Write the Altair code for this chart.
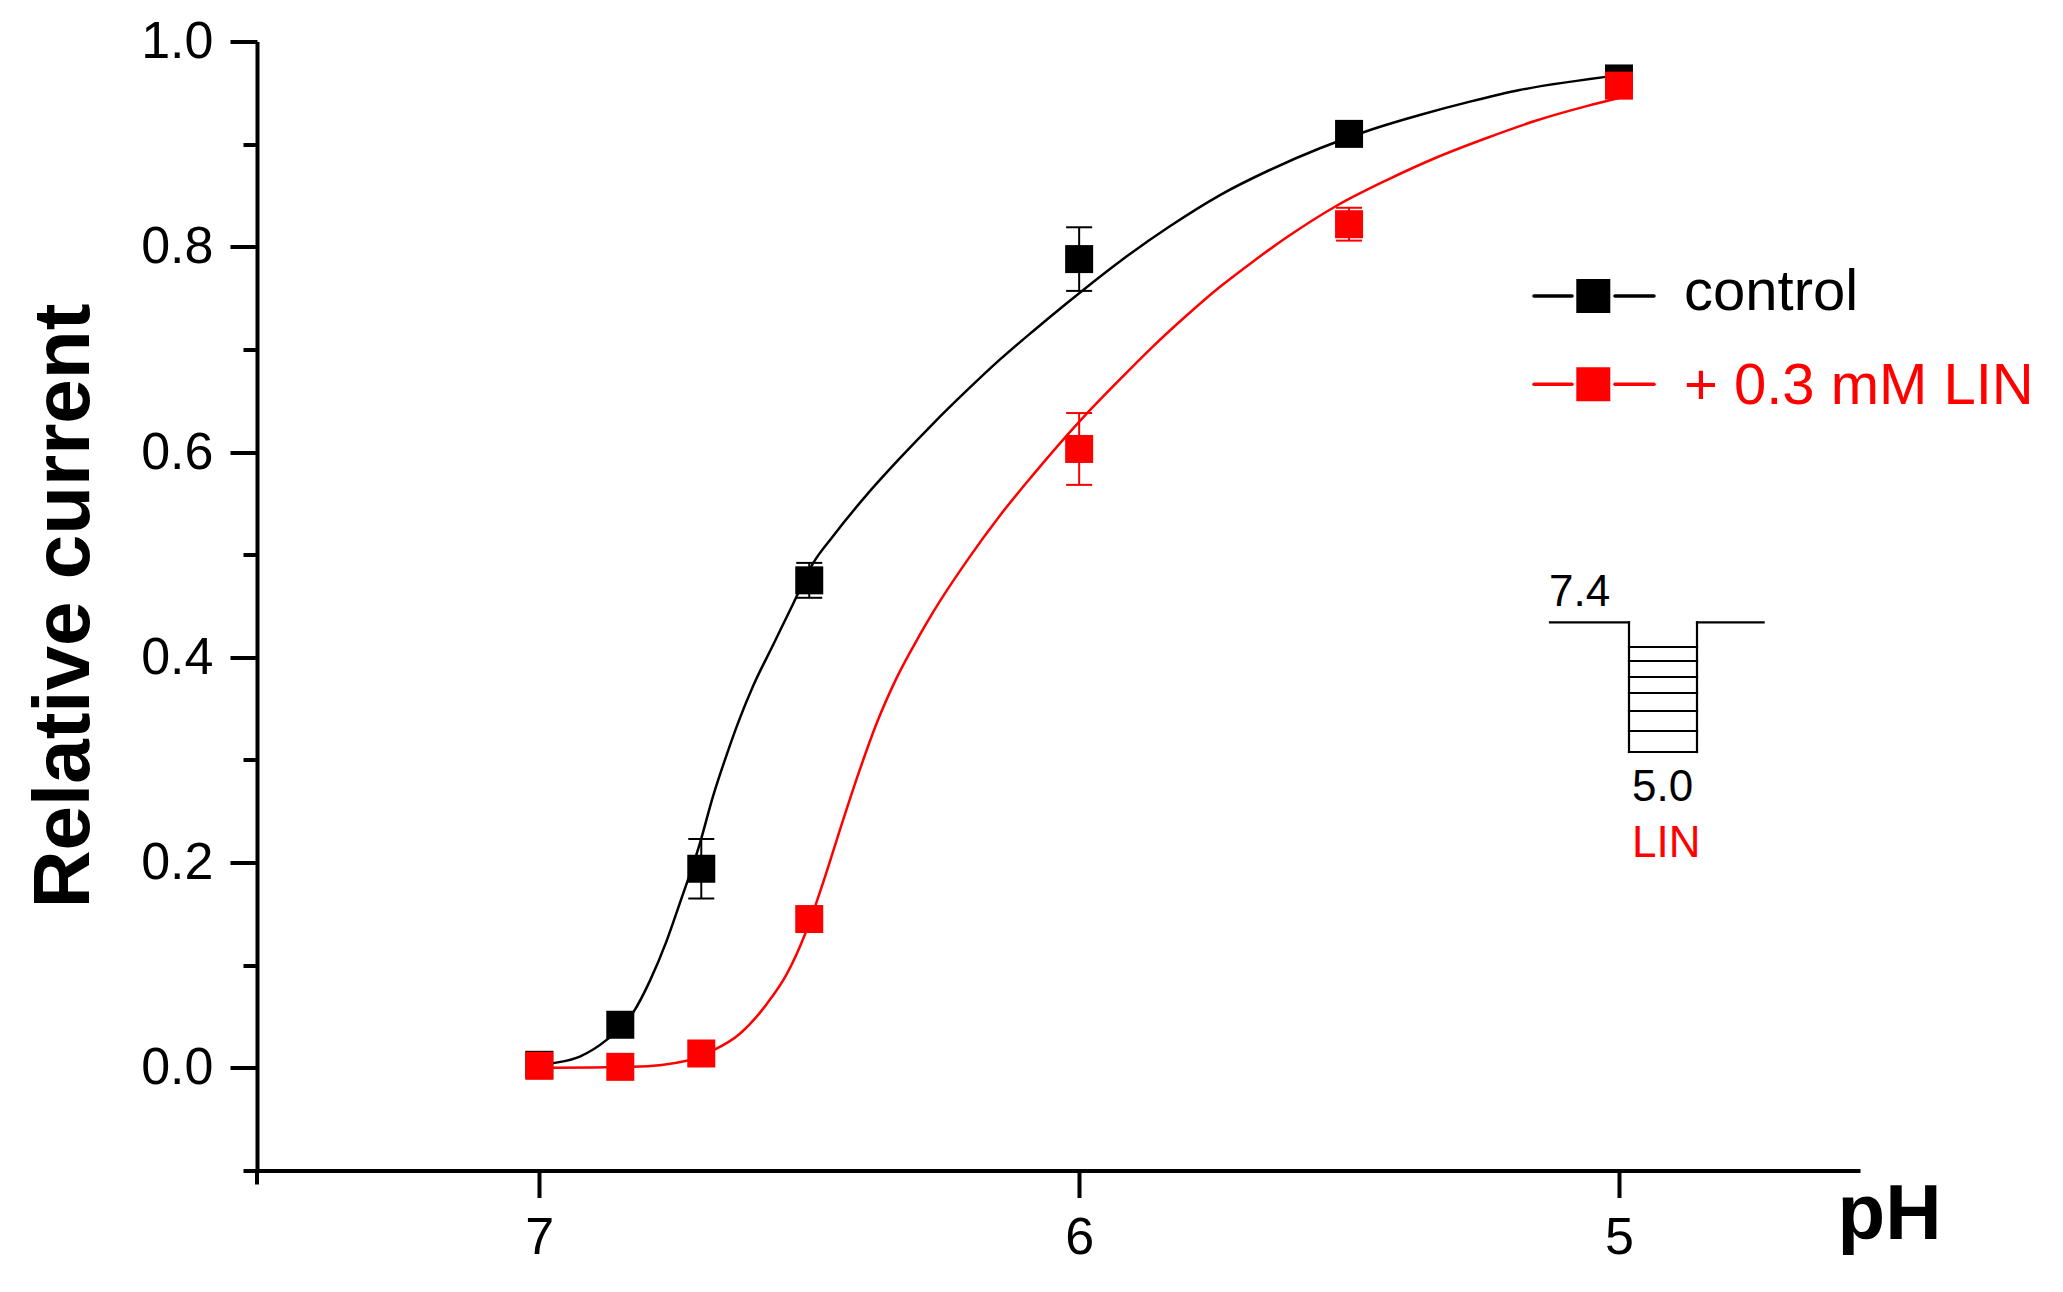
import altair as alt
import pandas as pd

# ---------------- data ----------------
ph = [7.0, 6.85, 6.7, 6.5, 6.0, 5.5, 5.0]
control = [0.003, 0.042, 0.194, 0.475, 0.788, 0.910, 0.964]
control_err = [0.004, 0.008, 0.029, 0.017, 0.031, 0.008, 0.006]
lin = [0.002, 0.001, 0.014, 0.145, 0.603, 0.822, 0.957]
lin_err = [0.003, 0.003, 0.006, 0.008, 0.035, 0.016, 0.006]

fit_ph_control = [7.0, 6.98, 6.925, 6.876, 6.826, 6.795, 6.764, 6.74, 6.703, 6.678,
                  6.653, 6.629, 6.604, 6.567, 6.53, 6.493, 6.456, 6.394, 6.332, 6.27,
                  6.208, 6.147, 6.085, 6.023, 5.924, 5.832, 5.739, 5.647, 5.554, 5.461,
                  5.369, 5.276, 5.184, 5.0]
fit_control = [0.002, 0.004, 0.011, 0.027, 0.054, 0.085, 0.124, 0.16, 0.218, 0.265,
               0.305, 0.34, 0.372, 0.412, 0.452, 0.4916, 0.518, 0.558, 0.594, 0.628,
               0.66, 0.69, 0.718, 0.745, 0.786, 0.82, 0.8504, 0.8748, 0.896, 0.9138,
               0.9284, 0.9414, 0.9527, 0.967]

fit_ph_lin = [7.0, 6.974, 6.826, 6.727, 6.678, 6.629, 6.579, 6.542, 6.508, 6.474,
              6.444, 6.406, 6.376, 6.339, 6.295, 6.27, 6.208, 6.147, 6.085, 6.023,
              5.992, 5.924, 5.863, 5.801, 5.739, 5.677, 5.616, 5.523, 5.43, 5.338,
              5.245, 5.153, 5.06, 5.0]
fit_lin = [0.0, 0.0, 0.001, 0.007, 0.017, 0.033, 0.062, 0.091, 0.13, 0.181,
           0.2305, 0.291, 0.3345, 0.379, 0.422, 0.4445, 0.494, 0.538, 0.578, 0.616,
           0.634, 0.671, 0.703, 0.733, 0.761, 0.786, 0.809, 0.84, 0.865, 0.887,
           0.906, 0.923, 0.937, 0.945]

series_names = ["control", "+ 0.3 mM LIN"]
x_ticks = [7, 6, 5]
y_ticks = [-0.1, 0.0, 0.1, 0.2, 0.3, 0.4, 0.5, 0.6, 0.7, 0.8, 0.9, 1.0]
x_domain = [4.5535, 7.523]
y_domain = [-0.1, 1.0]
inset_labels = ["7.4", "5.0", "LIN"]

# ---------------- layout ----------------
W, H = 1603, 1129
FONT = "Liberation Sans"
BLACK = "#000000"
RED = "#ff0000"


def pts_frame(vals, errs):
    return pd.DataFrame({"pH": ph, "v": vals,
                         "lo": [a - b for a, b in zip(vals, errs)],
                         "hi": [a + b for a, b in zip(vals, errs)]})


pts_c = pts_frame(control, control_err)
pts_l = pts_frame(lin, lin_err)
fit_c = pd.DataFrame({"pH": fit_ph_control, "v": fit_control})
fit_l = pd.DataFrame({"pH": fit_ph_lin, "v": fit_lin})

xscale = alt.Scale(domain=x_domain, reverse=True, nice=False, zero=False)
yscale = alt.Scale(domain=y_domain, nice=False, zero=False)

major_test = "round(datum.value*10) % 2 == 0"

x_axis = alt.Axis(
    values=x_ticks, format="d", title="pH",
    titleFont=FONT, titleFontSize=78, titleFontWeight="bold", titleColor=BLACK,
    titleAlign="left", titleBaseline="alphabetic", titleX=1580, titleY=68,
    labelFont=FONT, labelFontSize=52, labelColor=BLACK, labelPadding=15,
    tickSize=27, tickWidth=4, tickColor=BLACK,
    domainWidth=4, domainColor=BLACK, grid=False,
)
y_axis = alt.Axis(
    values=y_ticks, title="Relative current",
    labelExpr=f"{major_test} ? format(datum.value, '.1f') : ''",
    titleFont=FONT, titleFontSize=80, titleFontWeight="bold", titleColor=BLACK,
    titleAngle=270, titleAlign="center", titleBaseline="alphabetic", titleX=-169, titleY=564,
    labelFont=FONT, labelFontSize=52, labelColor=BLACK, labelPadding=17,
    tickSize={"condition": {"test": major_test, "value": 27}, "value": 14},
    tickWidth=4, tickColor=BLACK,
    domainWidth=4, domainColor=BLACK, grid=False,
)


def X():
    return alt.X("pH:Q", scale=xscale, axis=x_axis, title="pH")


def Y(field="v"):
    return alt.Y(f"{field}:Q", scale=yscale, axis=y_axis, title="Relative current")


def series_layers(fit_df, pts_df, color):
    out = [
        alt.Chart(fit_df).mark_line(color=color, strokeWidth=2.5, interpolate="monotone")
        .encode(x=X(), y=Y()),
        alt.Chart(pts_df).mark_rule(color=color, strokeWidth=2)
        .encode(x=X(), y=Y("lo"), y2="hi:Q"),
        alt.Chart(pts_df).mark_tick(color=color, orient="horizontal", size=26, thickness=2, opacity=1)
        .encode(x=X(), y=Y("lo")),
        alt.Chart(pts_df).mark_tick(color=color, orient="horizontal", size=26, thickness=2, opacity=1)
        .encode(x=X(), y=Y("hi")),
        alt.Chart(pts_df).mark_point(shape="square", filled=True, size=784, color=color, opacity=1)
        .encode(x=X(), y=Y()),
    ]
    return out


layers = []
layers += series_layers(fit_c, pts_c, BLACK)
layers += series_layers(fit_l, pts_l, RED)

one = pd.DataFrame({"a": [0]})


def seg(x1, x2, y1, y2, color=BLACK, width=2.2, cap="square"):
    return (alt.Chart(one).mark_rule(color=color, strokeWidth=width, strokeCap=cap)
            .encode(x=alt.value(x1), x2=alt.value(x2), y=alt.value(y1), y2=alt.value(y2)))


def label(txt, color, x, y, size):
    return (alt.Chart(one).mark_text(text=txt, color=color, font=FONT, fontSize=size,
                                     align="left", baseline="alphabetic")
            .encode(x=alt.value(x), y=alt.value(y)))


# y-axis line continues a little below the x axis
layers.append(seg(0, 0, H, H + 14, width=4, cap="butt"))

# ---------------- legend ----------------
legend_rows = [(series_names[0], BLACK, 254.6, 268.5), (series_names[1], RED, 342.7, 362.5)]
for name, col, ly, tb in legend_rows:
    for xa, xb in [(1277, 1315), (1358, 1397)]:
        layers.append(seg(xa, xb, ly, ly, color=col, width=3.5, cap="round"))
    layers.append(alt.Chart(one).mark_point(shape="square", filled=True, size=1156, color=col, opacity=1)
                  .encode(x=alt.value(1336.3), y=alt.value(ly)))
    layers.append(label(name, col, 1427, tb, 58))

# ---------------- inset (pH protocol) ----------------
top_y, bot_y = 580.9, 710.5
lx, rx = 1372, 1440
layers += [
    seg(1293, lx, top_y, top_y), seg(lx, lx, top_y, bot_y), seg(lx, rx, bot_y, bot_y),
    seg(rx, rx, bot_y, top_y), seg(rx, 1506.6, top_y, top_y),
]
for yy in [605.5, 619.5, 635.5, 651.5, 669.5, 689.5]:
    layers.append(seg(lx, rx, yy, yy))
layers.append(label(inset_labels[0], BLACK, 1292, 564.5, 44))
layers.append(label(inset_labels[1], BLACK, 1375, 759.5, 44))
layers.append(label(inset_labels[2], RED, 1375, 815.2, 44))

chart = alt.layer(*layers).properties(
    width=W, height=H,
    autosize=alt.AutoSizeParams(type="none"),
    padding={"left": 249, "top": 33.5, "right": 180, "bottom": 100},
    background="white",
).configure_view(stroke=None)

chart.save("out.html", embed_options={"renderer": "svg", "actions": False})
